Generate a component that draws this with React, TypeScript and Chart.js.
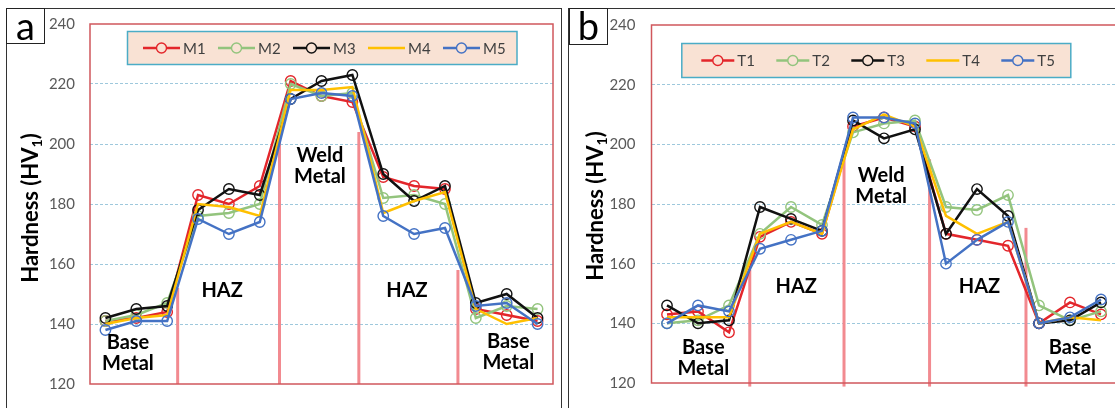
import React, { useEffect, useRef } from 'react';
import { Chart, registerables } from 'chart.js';

Chart.register(...registerables);

// ---------- data ----------
const positions = [1, 2, 3, 4, 5, 6, 7, 8, 9, 10, 11, 12, 13, 14, 15];
const yTicks = [120, 140, 160, 180, 200, 220, 240];

const namesA = ['M1', 'M2', 'M3', 'M4', 'M5'];
const M1 = [141, 142, 144, 183, 180, 186, 221, 216, 214, 189, 186, 185, 145, 143, 141];
const M2 = [141, 143, 147, 176, 177, 180, 220, 216, 217, 182, 183, 180, 142, 146, 145];
const M3 = [142, 145, 146, 178, 185, 183, 215, 221, 223, 190, 181, 186, 147, 150, 142];
const M4 = [140, 142, 143, 180, 179, 176, 218, 218, 219, 177, 181, 184, 145, 140, 142];
const M5 = [138, 141, 141, 175, 170, 174, 215, 217, 216, 176, 170, 172, 146, 147, 140];

const namesB = ['T1', 'T2', 'T3', 'T4', 'T5'];
const T1 = [143, 144, 137, 169, 174, 170, 206, 209, 206, 170, 168, 166, 140, 147, 143];
const T2 = [140, 141, 146, 170, 179, 173, 204, 207, 208, 179, 178, 183, 146, 141, 144];
const T3 = [146, 140, 141, 179, 175, 171, 208, 202, 205, 170, 185, 176, 140, 141, 147];
const T4 = [142, 142, 142, 170, 174, 170, 205, 210, 206, 176, 170, 174, 140, 142, 141];
const T5 = [140, 146, 144, 165, 168, 171, 209, 209, 207, 160, 168, 174, 140, 142, 148];

const seriesColors = ['#e3262b', '#93c47d', '#111111', '#ffc000', '#4472c4'];
const seriesMarkers = [true, true, true, false, true];

// zone labels (data coordinates: x position, y hardness)
const zoneLabelsA = [
  { lines: ['Base', 'Metal'], x: 1.73, y: 130.2 },
  { lines: ['HAZ'], x: 4.78, y: 151.3 },
  { lines: ['Weld', 'Metal'], x: 7.95, y: 192.6 },
  { lines: ['HAZ'], x: 10.77, y: 151.3 },
  { lines: ['Base', 'Metal'], x: 14.05, y: 130.5 },
];
const zoneLabelsB = [
  { lines: ['Base', 'Metal'], x: 2.17, y: 128.3 },
  { lines: ['HAZ'], x: 5.17, y: 152.4 },
  { lines: ['Weld', 'Metal'], x: 7.91, y: 186.1 },
  { lines: ['HAZ'], x: 11.08, y: 152.4 },
  { lines: ['Base', 'Metal'], x: 14.0, y: 128.3 },
];

// zone separators (x position, from bottom value to top value)
const separatorsA = [
  { x: 3.34, from: 120, to: 152 },
  { x: 6.64, from: 120, to: 204 },
  { x: 9.21, from: 120, to: 204 },
  { x: 12.42, from: 120, to: 158 },
];
const separatorsB = [
  { x: 3.67, from: 118.8, to: 158 },
  { x: 6.71, from: 118.8, to: 198 },
  { x: 9.47, from: 118.8, to: 195 },
  { x: 12.58, from: 118.8, to: 172 },
];

// ---------- drawing plugin ----------
const decorPlugin = {
  id: 'decor',
  beforeDatasetsDraw(chart: any, _args: any, opts: any) {
    const { ctx, chartArea, scales } = chart;
    const x = scales.x, y = scales.y;
    ctx.save();
    ctx.strokeStyle = '#f28a90';
    ctx.lineWidth = 3;
    for (const s of opts.separators) {
      const px = x.getPixelForValue(s.x);
      ctx.beginPath();
      ctx.moveTo(px, y.getPixelForValue(s.from));
      ctx.lineTo(px, y.getPixelForValue(s.to));
      ctx.stroke();
    }
    ctx.strokeStyle = '#d0575c';
    ctx.lineWidth = 1.5;
    ctx.strokeRect(chartArea.left, chartArea.top, chartArea.width, chartArea.height);
    ctx.restore();
  },
  afterDatasetsDraw(chart: any, _args: any, opts: any) {
    const { ctx, chartArea, scales } = chart;
    const x = scales.x, y = scales.y;
    ctx.save();
    // zone labels
    ctx.fillStyle = '#000';
    ctx.font = 'bold 20px Lato';
    ctx.textAlign = 'center';
    ctx.textBaseline = 'middle';
    for (const z of opts.zones) {
      const cx = x.getPixelForValue(z.x);
      const cy = y.getPixelForValue(z.y);
      const lh = 21;
      const n = z.lines.length;
      z.lines.forEach((t: string, i: number) => {
        ctx.fillText(t, cx, cy + (i - (n - 1) / 2) * lh);
      });
    }
    // legend
    const lg = opts.legend;
    const bx = chartArea.left + lg.dx;
    const by = chartArea.top + lg.dy;
    ctx.fillStyle = '#f9e2d4';
    ctx.fillRect(bx, by, lg.w, lg.h);
    ctx.strokeStyle = '#4bacc6';
    ctx.lineWidth = 1.5;
    ctx.strokeRect(bx, by, lg.w, lg.h);
    const cy = by + lg.h / 2;
    ctx.font = '15px Lato';
    ctx.textAlign = 'left';
    ctx.textBaseline = 'middle';
    opts.names.forEach((name: string, i: number) => {
      const lx = bx + lg.start + i * lg.stride;
      ctx.strokeStyle = seriesColors[i];
      ctx.lineWidth = 2.5;
      ctx.beginPath();
      ctx.moveTo(lx, cy);
      ctx.lineTo(lx + lg.lineLen, cy);
      ctx.stroke();
      if (seriesMarkers[i]) {
        ctx.lineWidth = 1.4;
        ctx.beginPath();
        ctx.arc(lx + lg.lineLen / 2, cy, 5, 0, Math.PI * 2);
        ctx.fillStyle = '#f9e2d4';
        ctx.fill();
        ctx.stroke();
      }
      ctx.fillStyle = '#404040';
      ctx.fillText(name, lx + lg.lineLen + 3, cy + 1);
    });
    // y-axis title with subscript
    ctx.translate(opts.titleX, opts.titleY);
    ctx.rotate(-Math.PI / 2);
    ctx.fillStyle = '#000';
    ctx.textBaseline = 'middle';
    ctx.textAlign = 'left';
    const big = 'bold 22px Lato';
    const small = 'bold 14px Lato';
    const p1 = 'Hardness (HV', p2 = '1', p3 = ')';
    ctx.font = big;
    const w1 = ctx.measureText(p1).width;
    const w3 = ctx.measureText(p3).width;
    ctx.font = small;
    const w2 = ctx.measureText(p2).width;
    let tx = -(w1 + w2 + w3) / 2;
    ctx.font = big;
    ctx.fillText(p1, tx, 0);
    tx += w1;
    ctx.font = small;
    ctx.fillText(p2, tx, 6);
    tx += w2;
    ctx.font = big;
    ctx.fillText(p3, tx, 0);
    ctx.restore();
  },
};

interface PanelProps {
  names: string[];
  series: number[][];
  zones: any[];
  separators: any[];
  width: number;
  padding: { top: number; bottom: number; left: number; right: number };
  axisWidth: number;
  tickPadding: number;
  legend: any;
  titleX: number;
  titleY: number;
}

function Panel(props: PanelProps) {
  const ref = useRef<HTMLCanvasElement>(null);
  useEffect(() => {
    if (!ref.current) return;
    const datasets = props.series.map((vals, i) => ({
      label: props.names[i],
      data: positions.map((p, j) => ({ x: p, y: vals[j] })),
      borderColor: seriesColors[i],
      backgroundColor: 'rgba(0,0,0,0)',
      borderWidth: 2.5,
      pointRadius: seriesMarkers[i] ? 5.2 : 0,
      pointBorderWidth: 1.4,
      pointBorderColor: seriesColors[i],
      pointBackgroundColor: 'rgba(0,0,0,0)',
      tension: 0,
      order: 5 - i,
    }));
    const chart = new Chart(ref.current, {
      type: 'line',
      data: { datasets },
      plugins: [decorPlugin],
      options: {
        animation: false,
        responsive: false,
        events: [],
        layout: { padding: props.padding },
        plugins: {
          legend: { display: false },
          tooltip: { enabled: false },
          decor: {
            zones: props.zones,
            separators: props.separators,
            legend: props.legend,
            names: props.names,
            titleX: props.titleX,
            titleY: props.titleY,
          },
        } as any,
        scales: {
          x: { type: 'linear', min: 0.5, max: 15.5, display: false },
          y: {
            min: yTicks[0],
            max: yTicks[yTicks.length - 1],
            afterBuildTicks: (scale: any) => {
              scale.ticks = yTicks.map((v) => ({ value: v }));
            },
            afterFit: (scale: any) => {
              scale.width = props.axisWidth;
            },
            ticks: {
              color: '#595959',
              font: { family: 'Lato', size: 15 },
              padding: props.tickPadding,
            },
            grid: {
              drawTicks: false,
              color: (c: any) =>
                c.tick && (c.tick.value === 120 || c.tick.value === 240) ? 'rgba(0,0,0,0)' : '#9ec8dc',
              lineWidth: 1,
            },
            border: { display: false, dash: [3, 2] },
          },
        },
      } as any,
    });
    return () => chart.destroy();
  }, []);
  return <canvas ref={ref} width={props.width} height={408} style={{ display: 'block' }} />;
}

const boxStyle: React.CSSProperties = {
  position: 'absolute',
  border: '1.5px solid #222',
  background: '#fff',
  fontFamily: 'Lato, sans-serif',
  fontSize: 38,
  lineHeight: '32px',
  textAlign: 'center',
  boxSizing: 'border-box',
};

export default function App() {
  return (
    <div style={{ position: 'absolute', left: 0, top: 0, width: 1115, height: 408, overflow: 'hidden', background: '#fff' }}>
      <div style={{ position: 'absolute', left: 0, top: 0, width: 563, height: 408, overflow: 'hidden' }}>
        <Panel
          names={namesA}
          series={[M1, M2, M3, M4, M5]}
          zones={zoneLabelsA}
          separators={separatorsA}
          width={563}
          padding={{ top: 23, bottom: 13, left: 0, right: 10 }}
          axisWidth={90}
          tickPadding={15}
          legend={{ dx: 37.5, dy: 7.5, w: 389.5, h: 33, start: 15.5, stride: 75, lineLen: 37 }}
          titleX={31}
          titleY={208}
        />
      </div>
      <div style={{ position: 'absolute', left: 563, top: 0, width: 552, height: 408, overflow: 'hidden' }}>
        <Panel
          names={namesB}
          series={[T1, T2, T3, T4, T5]}
          zones={zoneLabelsB}
          separators={separatorsB}
          width={600}
          padding={{ top: 20, bottom: 18, left: 0, right: 46.5 }}
          axisWidth={88.5}
          tickPadding={16}
          legend={{ dx: 30.3, dy: 18.5, w: 389, h: 34, start: 19.5, stride: 75, lineLen: 33 }}
          titleX={33}
          titleY={206}
        />
      </div>
      {/* panel borders */}
      <div style={{ position: 'absolute', left: 6, top: 8, width: 556, height: 420, border: '1.5px solid #333', boxSizing: 'border-box', pointerEvents: 'none' }} />
      <div style={{ position: 'absolute', left: 568, top: 8, width: 600, height: 420, border: '1.5px solid #333', boxSizing: 'border-box', pointerEvents: 'none' }} />
      {/* panel letters */}
      <div style={{ ...boxStyle, left: 6, top: 8, width: 39, height: 36 }}>a</div>
      <div style={{ ...boxStyle, left: 569, top: 8, width: 39, height: 37 }}>b</div>
    </div>
  );
}
